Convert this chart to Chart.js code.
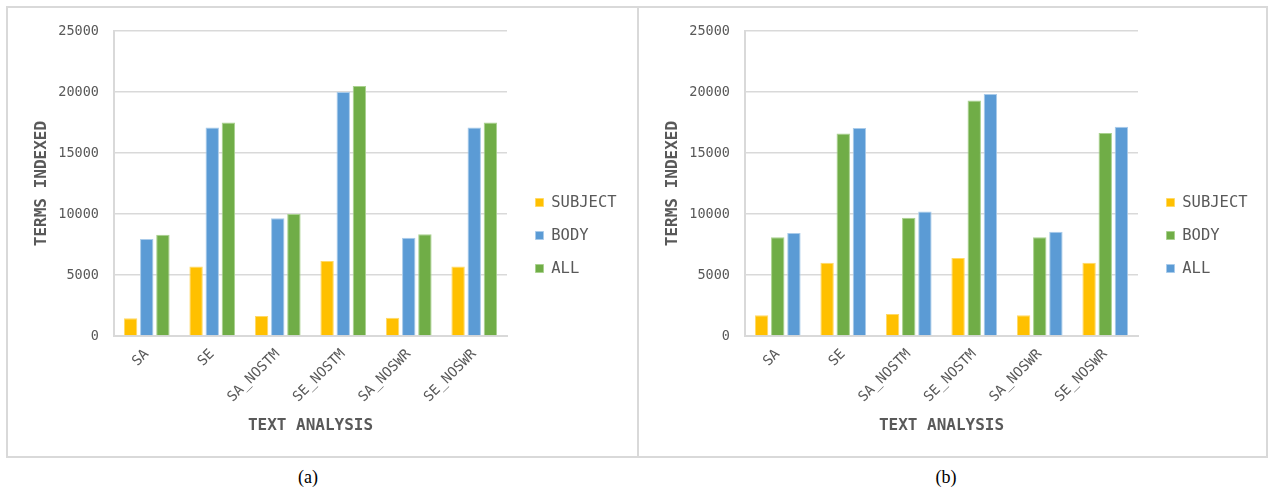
<!DOCTYPE html>
<html>
<head>
<meta charset="utf-8">
<title>Terms indexed per text analysis</title>
<script src="https://cdn.jsdelivr.net/npm/chart.js@4.4.1/dist/chart.umd.min.js"></script>
<style>
  html, body { margin: 0; padding: 0; background: #fff; }
  body { position: relative; width: 1270px; height: 492px; overflow: hidden; }
  .frame { position: absolute; top: 6px; height: 448px; border: 2px solid #d9d9d9; }
  #frameA { left: 6px; width: 629px; }
  #frameB { left: 637px; width: 627px; }
  canvas { position: absolute; top: 8px; }
  #chartA { left: 8px; }
  #chartB { left: 639px; }
  .caption { position: absolute; top: 467px; width: 60px; margin-left: -30px; text-align: center;
             font-family: 'Liberation Serif', 'Times New Roman', serif; font-size: 18px; color: #000; }
</style>
</head>
<body>
<div class="frame" id="frameA"></div>
<div class="frame" id="frameB"></div>
<canvas id="chartA" width="628" height="448"></canvas>
<canvas id="chartB" width="628" height="448"></canvas>
<div class="caption" style="left:308px">(a)</div>
<div class="caption" style="left:946px">(b)</div>

<script>
// Text analysis variants on the x axis
const CATEGORIES = ['SA', 'SE', 'SA_NOSTM', 'SE_NOSTM', 'SA_NOSWR', 'SE_NOSWR'];
const Y_TICKS = [0, 5000, 10000, 15000, 20000, 25000];
const SERIES_NAMES = ['SUBJECT', 'BODY', 'ALL'];

// Panel (a): terms indexed
const SUBJECT_A = [1450, 5700, 1650, 6150, 1500, 5700];
const BODY_A    = [7950, 17100, 9650, 20000, 8050, 17100];
const ALL_A     = [8300, 17500, 10000, 20500, 8350, 17500];

// Panel (b): terms indexed
const SUBJECT_B = [1700, 6000, 1800, 6400, 1700, 6000];
const BODY_B    = [8100, 16600, 9700, 19300, 8100, 16650];
const ALL_B     = [8450, 17050, 10200, 19850, 8550, 17150];

const YELLOW = { fill: '#FFC000', edge: '#FFD966' };
const BLUE   = { fill: '#5B9BD5', edge: '#A9CBEA' };
const GREEN  = { fill: '#70AD47', edge: '#A9D18E' };

const MONO = "'DejaVu Sans Mono', 'Liberation Mono', monospace";
const TEXT_GRAY = '#595959';
const GRID_GRAY = '#d9d9d9';

// Nudges the legend block away from the plot area
const legendOffset = {
  id: 'legendOffset',
  afterLayout(chart) {
    const lg = chart.legend;
    if (!lg) return;
    lg.left += 11; lg.right += 11;
    lg.top -= 7; lg.bottom -= 7;
  }
};

function makeChart(id, values, colors, yWidth) {
  const datasets = SERIES_NAMES.map((name, i) => ({
    label: name,
    data: values[i],
    backgroundColor: colors[i].fill,
    borderColor: colors[i].edge,
    borderWidth: 1,
    categoryPercentage: 0.74,
    barPercentage: 0.83
  }));

  return new Chart(document.getElementById(id), {
    type: 'bar',
    data: { labels: CATEGORIES, datasets },
    plugins: [legendOffset],
    options: {
      responsive: false,
      animation: false,
      devicePixelRatio: 1,
      layout: { padding: { top: 21, right: 21, bottom: 0, left: 0 } },
      plugins: {
        tooltip: { enabled: false },
        legend: {
          position: 'right',
          maxWidth: 108,
          labels: {
            boxWidth: 8,
            boxHeight: 8,
            padding: 17.5,
            color: TEXT_GRAY,
            font: { family: MONO, size: 15.5 }
          }
        }
      },
      scales: {
        x: {
          grid: { display: false, drawTicks: false },
          border: { display: true, color: GRID_GRAY, width: 2 },
          ticks: {
            minRotation: 45,
            maxRotation: 45,
            padding: 10,
            color: TEXT_GRAY,
            font: { family: MONO, size: 14 }
          },
          title: {
            display: true,
            text: 'TEXT ANALYSIS',
            color: TEXT_GRAY,
            font: { family: MONO, size: 16, weight: 'bold' },
            padding: { top: 0, bottom: 21 }
          },
          afterFit(scale) { scale.height = 120; }
        },
        y: {
          min: 0,
          max: 25000,
          grid: { color: GRID_GRAY, lineWidth: 1.6, drawTicks: false },
          border: { display: true, color: GRID_GRAY, width: 2 },
          afterBuildTicks(scale) { scale.ticks = Y_TICKS.map(v => ({ value: v })); },
          ticks: {
            padding: 15,
            color: TEXT_GRAY,
            font: { family: MONO, size: 13.5 },
            callback: v => String(v)
          },
          title: {
            display: true,
            text: 'TERMS INDEXED',
            color: TEXT_GRAY,
            font: { family: MONO, size: 16, weight: 'bold' },
            padding: { top: 24, bottom: 0 }
          },
          afterFit(scale) { scale.width = yWidth; }
        }
      }
    }
  });
}

makeChart('chartA', [SUBJECT_A, BODY_A, ALL_A], [YELLOW, BLUE, GREEN], 106);
makeChart('chartB', [SUBJECT_B, BODY_B, ALL_B], [YELLOW, GREEN, BLUE], 106);
</script>
</body>
</html>
